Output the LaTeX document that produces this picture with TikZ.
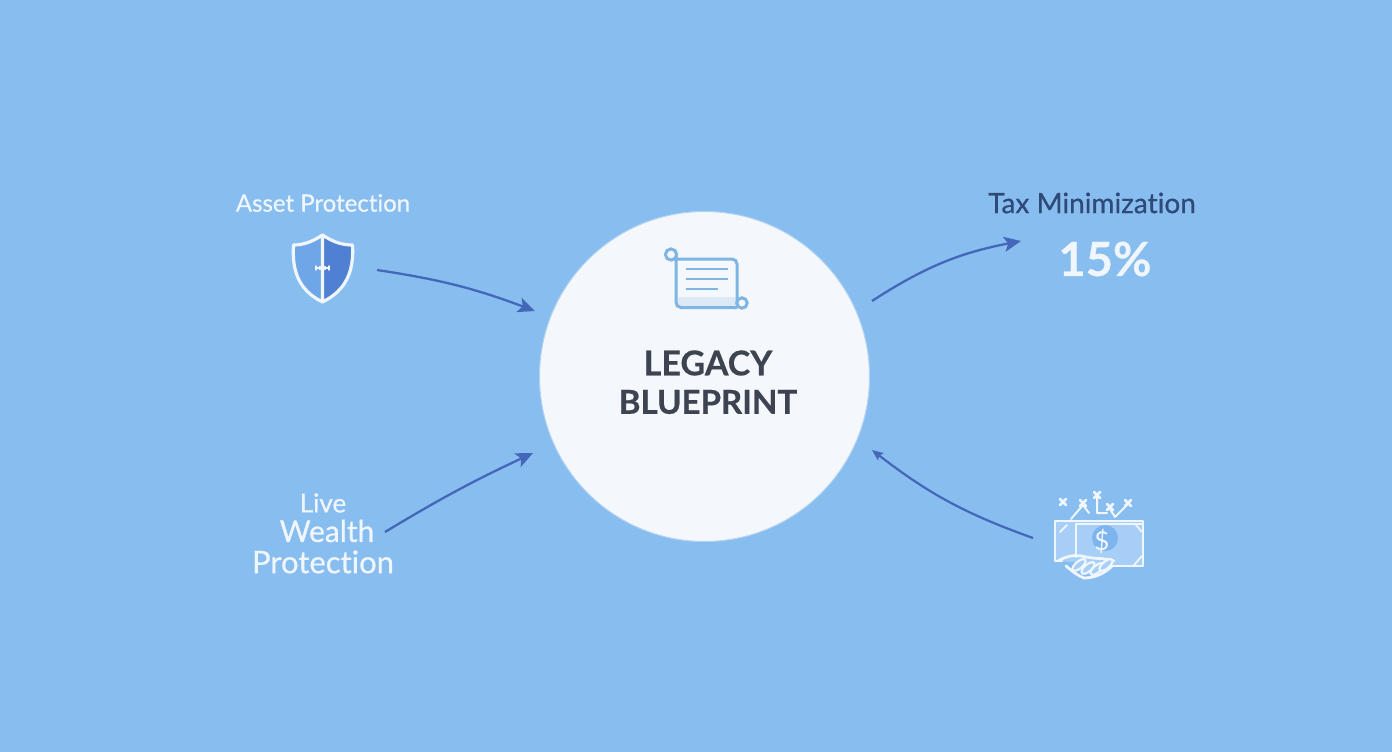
\documentclass[tikz,border=0pt]{standalone}
\usepackage{fontspec}
\setmainfont{Lato}
\newfontfamily\heavyish[FakeBold=0.6,Ligatures=NoCommon]{Lato}
\newfontfamily\heavier[FakeBold=0.5,UprightFont={* Bold}]{Lato}
\usetikzlibrary{arrows.meta}
\definecolor{skyback}{HTML}{88BDF0}
\definecolor{hubfill}{HTML}{F4F8FC}
\definecolor{hubedge}{HTML}{B4D3F0}
\definecolor{flowblue}{HTML}{4467B9}
\definecolor{inkdark}{HTML}{3D4350}
\definecolor{inknavy}{HTML}{2F4A78}
\definecolor{paleline}{HTML}{F0F6FD}
\definecolor{scrollblue}{HTML}{7FB5E3}
\definecolor{scrollband}{HTML}{DEE9F7}
\definecolor{shieldleft}{HTML}{6FA6E8}
\definecolor{shieldright}{HTML}{4F80D2}
\definecolor{billfill}{HTML}{A6CEF6}
\definecolor{coinfill}{HTML}{7FB5EE}
\tikzset{
  flow/.style={draw=flowblue,line width=2.3pt,-{Stealth[length=17pt,width=15pt,inset=4pt]}},
  thinflow/.style={draw=flowblue,line width=2.2pt,-{Stealth[length=11pt,width=9pt,inset=2pt]}},
  paletext/.style={text=paleline,inner sep=0pt,font=\fontsize{24}{28}\selectfont\heavyish},
  hubtext/.style={text=inkdark,inner sep=0pt,font=\fontsize{33}{38}\selectfont\heavier},
  iconline/.style={draw=paleline,line width=1.6pt,line cap=round,line join=round}
}
\begin{document}
\begin{tikzpicture}
  [x=1pt,y=-1pt]
  \fill [skyback] (0,0) rectangle (1392,752);
  \useasboundingbox (0,0) rectangle (1392,752);

  % centre
  \node (hub) at (704.5,376.5) [circle,draw=hubedge,line width=1pt,fill=hubfill,minimum size=330pt,inner sep=0pt] {};
  \node (legacy) at (708,363) [hubtext,font=\fontsize{34}{38}\selectfont\heavier] {LEGACY};
  \node (blueprint) at (708,402) [hubtext] {BLUEPRINT};

  % labels
  \node (asset) at (323,203) [paletext] {Asset Protection};
  \node (live) at (323,503) [paletext,font=\fontsize{26}{30}\selectfont\heavyish] {Live};
  \node (wealth) at (327,531) [paletext,font=\fontsize{30}{34}\selectfont\heavyish] {Wealth};
  \node (protect) at (323,562) [paletext,font=\fontsize{31}{34}\selectfont\heavyish] {Protection};
  \node (tax) at (1092,203) [text=inknavy,inner sep=0pt,font=\fontsize{28}{32}\selectfont\heavyish] {Tax Minimization};
  \node (pct) at (1105,259) [text=paleline,inner sep=0pt,font=\fontsize{47}{52}\selectfont\heavier] {15\%};

  % shield
  \fill [shieldleft] (322.5,235) .. controls (312,242) and (303,245) .. (293.5,245)
    .. controls (292,270) and (298,290) .. (322.5,302) -- cycle;
  \fill [shieldright] (322.5,235) .. controls (333,242) and (342,245) .. (352.5,245)
    .. controls (354,270) and (347,290) .. (322.5,302) -- cycle;
  \draw [iconline,line width=3.2pt] (322.5,235) .. controls (312,242) and (303,245) .. (293.5,245)
    .. controls (292,270) and (298,290) .. (322.5,302)
    .. controls (347,290) and (354,270) .. (352.5,245)
    .. controls (342,245) and (333,242) .. (322.5,235) -- (322.5,302);
  \draw [iconline,line width=1.4pt] (316,268) -- (329,268) (316,266) -- (316,270) (329,266) -- (329,270) (320,266.5) -- (320,269.5) (325,266.5) -- (325,269.5);

  % scroll
  \fill [scrollband,rounded corners=4pt] (676,297) rectangle (737,307.5);
  \draw [scrollblue,line width=3pt,rounded corners=5pt] (676,256) -- (676,307.5) -- (737,307.5);
  \draw [scrollblue,line width=3pt,rounded corners=5pt] (674,259) -- (737,259) -- (737,305);
  \draw [scrollblue,line width=3pt,fill=hubfill] (671,254.5) circle (5.6pt);
  \draw [scrollblue,line width=3pt,fill=hubfill] (742,303) circle (5.2pt);
  \foreach \ya/\xb in {269/728, 279/728, 289/718}
    \draw [scrollblue,line width=2.2pt] (686,\ya) -- (\xb,\ya);

  % money and hand
  \draw [iconline,fill=billfill,line width=2.8pt] (1062,561) -- (1055,561) -- (1055,521) -- (1143,521) -- (1143,566) -- (1112,566);
  \draw [iconline,fill=billfill,line width=2.4pt] (1076,557) -- (1076,524) -- (1143,524) -- (1143,566) -- (1112,566);
  \draw [iconline,line width=1.8pt] (1060,532) -- (1067,525) (1136,525) -- (1142,532) (1134,565) -- (1142,556);
  \fill [coinfill] (1105,538) circle (13pt);
  \node (dollar) at (1102,541) [text=paleline,inner sep=0pt,font=\fontsize{26}{30}\selectfont] {\$};
  \draw [iconline,line width=2.8pt] (1058,561) .. controls (1066,556) and (1076,554) .. (1086,557)
    .. controls (1096,559) and (1106,558) .. (1114,561) (1066,566) .. controls (1072,571) and (1078,576) .. (1084,578) .. controls (1094,578) and (1104,574) .. (1112,566);
  \foreach \fx/\fy in {1079/565, 1088/568, 1097/569, 1106/565}
    \draw [iconline,fill=billfill,line width=2.2pt] (\fx,\fy) ellipse [x radius=8pt,y radius=3.5pt,rotate=40];
  \foreach \cx/\cy in {1063/502, 1083/503, 1097/495, 1110/507, 1128/503}
    \draw [iconline,line width=2.8pt] (\cx-3,\cy-3) -- (\cx+3,\cy+3) (\cx-3,\cy+3) -- (\cx+3,\cy-3);
  \draw [iconline,line width=2pt] (1071,519) -- (1083,505) -- (1089,513) (1097,497) -- (1097,513) -- (1107,513)
    (1110,509) -- (1115,517) -- (1127,505);

  % arrow ends
  \coordinate (a0) at (377,270);
  \coordinate (a1) at (535,311);
  \coordinate (b0) at (385,532);
  \coordinate (b1) at (533,453);
  \coordinate (c0) at (872,301);
  \coordinate (c1) at (1021,241);
  \coordinate (d0) at (1033,538);
  \coordinate (d1) at (872,450);

  \foreach \from/\to/\bendby/\kind in {a0/a1/6/flow, b0/b1/3/flow, c0/c1/11/flow, d0/d1/9/thinflow}
    \draw [\kind] (\from) to [bend left=\bendby] (\to);
\end{tikzpicture}
\end{document}
